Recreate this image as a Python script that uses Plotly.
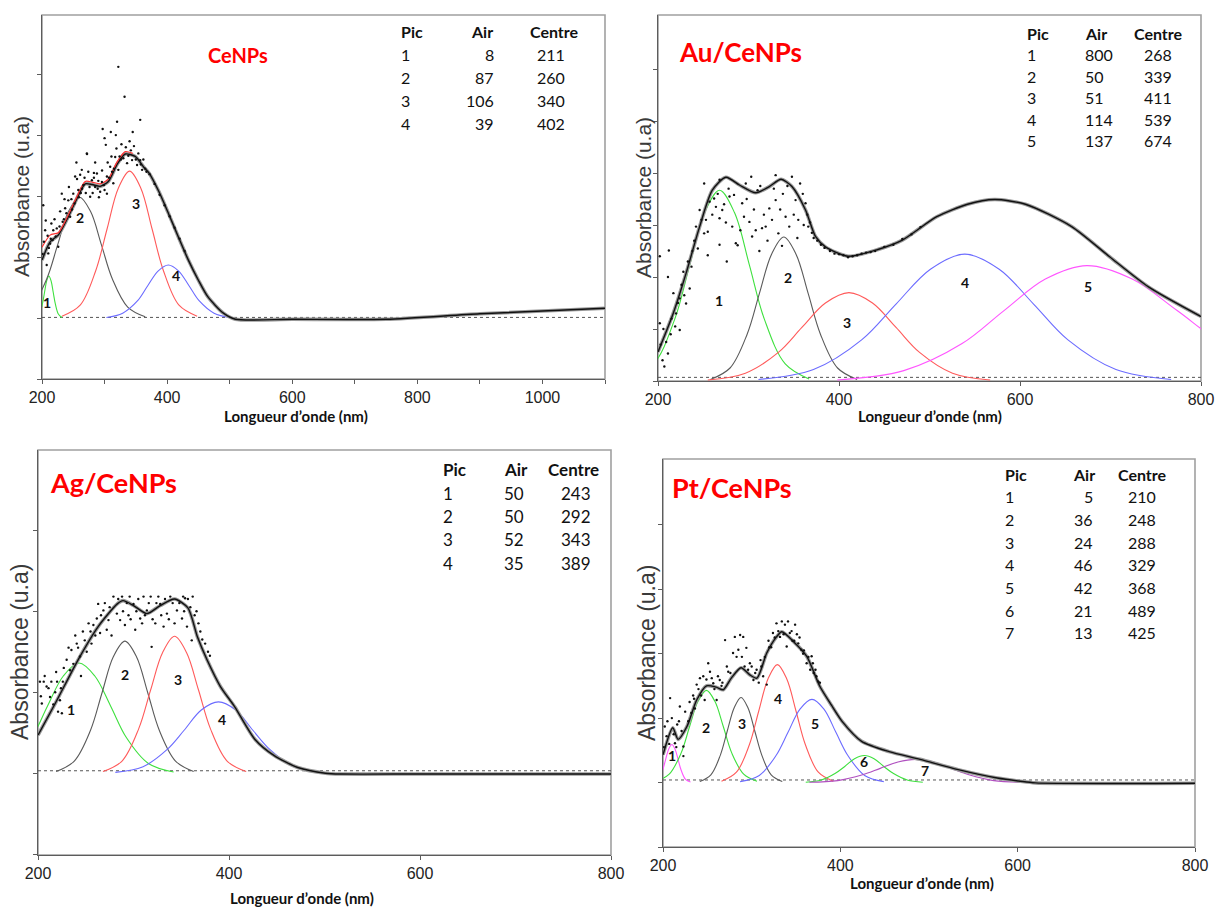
import plotly.graph_objects as go

W, H = 1215, 907

# ======================= DATA =======================
# ---------- CeNPs ----------
CE_PIC = ["1", "2", "3", "4"]
CE_AIR = ["8", "87", "106", "39"]
CE_CENTRE = ["211", "260", "340", "402"]
CE_PEAKS_X = [
    [190, 195.6, 200.5, 204, 207.5, 211, 214.5, 218, 221.5, 226.4, 232],
    [155, 183, 207.5, 225, 242.5, 260, 277.5, 295, 312.5, 337, 365],
    [232, 261, 286, 304, 322, 340, 358, 376, 394, 419, 448],
    [303, 329, 352.5, 369, 385.5, 402, 418.5, 435, 451.5, 475, 501],
]
CE_PEAKS_Y = [
    [0.008, 0.061, 0.224, 0.419, 0.609, 0.69, 0.609, 0.419, 0.224, 0.061, 0.008],
    [0.02, 0.18, 0.64, 1.20, 1.75, 1.98, 1.75, 1.20, 0.64, 0.18, 0.02],
    [0.03, 0.21, 0.78, 1.46, 2.13, 2.41, 2.13, 1.46, 0.78, 0.21, 0.03],
    [0.01, 0.08, 0.28, 0.53, 0.77, 0.87, 0.77, 0.53, 0.28, 0.08, 0.01],
]
CE_ENV_X = [200, 213, 226, 240, 253, 269, 280, 293, 306, 320, 333, 349, 363, 371, 387,
            402, 418, 434, 450, 465, 490, 509, 600, 750, 900, 1100]
CE_ENV_Y = [0.95, 1.25, 1.36, 1.62, 1.90, 2.20, 2.19, 2.16, 2.24, 2.52, 2.69, 2.65, 2.47, 2.38, 2.07,
            1.72, 1.33, 0.95, 0.62, 0.35, 0.08, -0.02, -0.02, -0.02, 0.07, 0.16]
CE_FIT_X = [200, 213, 226, 240, 253, 269, 280, 293, 306, 320, 333, 345]
CE_FIT_Y = [1.16, 1.36, 1.40, 1.65, 1.93, 2.24, 2.23, 2.20, 2.28, 2.56, 2.73, 2.70]
CE_DOTS = [(202, 1.85), (205, 1.44), (210, 1.06), (207.5, 0.87), (213, 1.22), (218, 1.44), (223.6, 1.47),
           (226, 1.17), (231.6, 2.04), (237, 1.80), (242, 1.93), (245, 1.66), (250, 2.04), (253, 2.32),
           (258, 2.10), (263.6, 2.43), (266, 2.18), (271.7, 2.70), (277, 1.99), (279.7, 2.26), (285, 2.15),
           (287.8, 2.37), (293, 2.07), (295.8, 2.23), (303.8, 2.32), (303.8, 2.04), (309, 2.48), (314, 2.21),
           (317, 2.64), (322, 2.43), (336, 2.54), (344, 2.59), (352, 2.51), (357, 2.59), (360, 2.43),
           (322, 4.12), (332, 3.63), (297, 3.10), (320, 3.22), (357, 3.25), (302, 2.84), (272, 2.69),
           (318, 3.00), (365, 2.45), (372, 2.36), (380, 2.20), (388, 2.02), (396, 1.85), (404, 1.67),
           (412, 1.48), (420, 1.30), (428, 1.10), (214, 1.30), (228, 1.50), (248, 1.78), (262, 2.05),
           (283, 2.30), (300, 2.10), (312, 2.40), (326, 2.60), (340, 2.90), (235, 1.62), (290, 2.25),
           (201, 1.05), (203, 1.25), (206, 1.60), (209, 1.35), (211, 1.15), (215, 1.55), (217, 1.28),
           (220, 1.62), (222, 1.34), (229, 1.75), (233, 1.58), (236, 1.95), (239, 1.72), (243, 2.15),
           (247, 1.95), (252, 1.88), (256, 2.28), (259, 1.98), (261, 2.35), (264, 2.12), (268, 2.30),
           (270, 2.05), (274, 2.40), (276, 2.15), (281, 2.05), (283, 2.38), (289, 2.12), (291, 1.98),
           (296, 2.42), (299, 2.18), (305, 2.55), (307, 2.30), (311, 2.65), (315, 2.45), (319, 2.78),
           (324, 2.65), (327, 2.85), (330, 2.62), (334, 2.80), (338, 2.66), (342, 2.75), (347, 2.82),
           (350, 2.60), (354, 2.70), (358, 2.52), (362, 2.60), (367, 2.40), (300, 2.95), (310, 3.05),
           (285, 2.55), (255, 2.55), (345, 3.05)]

# ---------- Au/CeNPs ----------
AU_PIC = ["1", "2", "3", "4", "5"]
AU_AIR = ["800", "50", "51", "114", "137"]
AU_CENTRE = ["268", "339", "411", "539", "674"]
AU_PEAKS_X = [
    [169, 195.4, 218.5, 235, 251.5, 268, 284.5, 301, 317.5, 340.6, 367],
    [258, 279.6, 298.5, 312, 325.5, 339, 352.5, 366, 379.5, 398.4, 420],
    [255, 296.6, 333, 359, 385, 411, 437, 463, 489, 525.4, 567],
    [311, 371.8, 425, 463, 501, 539, 577, 615, 653, 706, 767],
    [398, 471.6, 536, 582, 628, 674, 724, 774, 824, 894, 974],
]
AU_PEAKS_Y = [
    [0.04, 0.33, 1.19, 2.23, 3.24, 3.67, 3.24, 2.23, 1.19, 0.33, 0.04],
    [0.03, 0.25, 0.90, 1.68, 2.44, 2.77, 2.44, 1.68, 0.90, 0.25, 0.03],
    [0.02, 0.15, 0.55, 1.03, 1.50, 1.70, 1.50, 1.03, 0.55, 0.15, 0.02],
    [0.03, 0.22, 0.79, 1.48, 2.15, 2.44, 2.15, 1.48, 0.79, 0.22, 0.03],
    [0.02, 0.20, 0.72, 1.35, 1.96, 2.22, 1.96, 1.35, 0.72, 0.20, 0.02],
]
AU_ENV_X = [200, 217, 231, 246, 260, 275, 290, 308, 323, 336, 348, 363, 374, 385, 410, 443,
            470, 508, 542, 572, 606, 657, 699, 742, 800]
AU_ENV_Y = [0.56, 1.31, 2.07, 2.97, 3.67, 3.92, 3.77, 3.62, 3.74, 3.88, 3.74, 3.29, 2.78, 2.58, 2.40, 2.53,
            2.71, 3.16, 3.40, 3.49, 3.40, 2.97, 2.39, 1.81, 1.24]
AU_DOTS = [(202, 2.40), (212, 2.51), (202, 1.11), (205, 0.40), (211, 2.00), (217, 1.69), (224, 1.59),
           (231, 1.49), (235, 1.78), (242, 2.97), (246, 3.29), (251, 2.84), (255, 2.87), (262, 3.51),
           (264, 3.35), (268, 3.13), (271, 3.29), (282, 2.97), (286, 2.65), (284, 3.58), (293, 3.42),
           (295, 3.16), (301, 3.06), (304, 2.78), (310, 3.67), (315, 2.94), (319, 2.97), (323, 3.32),
           (326, 3.10), (330, 3.48), (333, 2.84), (341, 3.16), (345, 2.97), (352, 3.48), (357, 3.80),
           (363, 3.42), (288, 2.61), (366, 2.97), (268, 3.87), (251, 3.80), (303, 3.93), (330, 3.96),
           (348, 3.93), (255, 2.42), (253, 3.10), (268, 2.62), (207, 0.28), (211, 0.53), (224, 0.98),
           (228, 2.10), (238, 2.50), (278, 3.70), (298, 3.50), (338, 3.60), (355, 3.10), (370, 2.85),
           (214, 0.90), (220, 1.30), (276, 2.30), (312, 2.50), (380, 2.62), (390, 2.50), (400, 2.44),
           (410, 2.38), (420, 2.42), (430, 2.47), (440, 2.50), (450, 2.58), (460, 2.62), (470, 2.73),
           (480, 2.82), (490, 2.96),
           (203, 0.70), (206, 1.00), (209, 0.75), (215, 1.20), (219, 1.05), (222, 1.50), (226, 1.85),
           (229, 1.65), (233, 2.30), (237, 2.20), (240, 2.70), (244, 2.55), (248, 3.10), (257, 3.45),
           (260, 3.20), (266, 3.60), (273, 3.40), (275, 3.05), (279, 3.55), (291, 2.90), (297, 3.80),
           (306, 3.30), (308, 2.90), (313, 3.75), (317, 3.20), (321, 2.70), (328, 3.70), (335, 3.30),
           (337, 2.60), (343, 3.75), (350, 3.20), (354, 2.75), (360, 3.60), (361, 3.00), (365, 3.20),
           (368, 3.05), (372, 2.75), (376, 2.70), (384, 2.56), (395, 2.45), (405, 2.42), (415, 2.40),
           (425, 2.45), (435, 2.48)]

# ---------- Ag/CeNPs ----------
AG_PIC = ["1", "2", "3", "4"]
AG_AIR = ["50", "50", "52", "35"]
AG_CENTRE = ["243", "292", "343", "389"]
AG_PEAKS_X = [
    [144, 170.4, 193.5, 210, 226.5, 243, 259.5, 276, 292.5, 315.6, 342],
    [219, 238, 255, 267, 279, 291, 303, 315, 327, 344, 363],
    [268, 288, 305.5, 318, 330.5, 343, 355.5, 368, 380.5, 398, 418],
    [281, 310, 335, 353, 371, 389, 407, 425, 443, 468, 497],
]
AG_PEAKS_Y = [
    [0.015, 0.12, 0.44, 0.83, 1.20, 1.36, 1.20, 0.83, 0.44, 0.12, 0.015],
    [0.02, 0.15, 0.53, 0.99, 1.44, 1.63, 1.44, 0.99, 0.53, 0.15, 0.02],
    [0.02, 0.15, 0.55, 1.03, 1.49, 1.69, 1.49, 1.03, 0.55, 0.15, 0.02],
    [0.01, 0.08, 0.29, 0.53, 0.78, 0.88, 0.78, 0.53, 0.29, 0.08, 0.01],
]
AG_ENV_X = [200, 218, 242, 263, 283, 289, 300, 314, 328, 343, 357, 367, 377, 391, 406, 427,
            447, 472, 501, 517, 600, 800]
AG_ENV_Y = [0.47, 0.86, 1.40, 1.81, 2.09, 2.13, 2.07, 1.97, 2.07, 2.15, 2.04, 1.68, 1.40, 1.07, 0.82, 0.42,
            0.22, 0.07, 0.0, -0.01, -0.01, -0.01]
AG_DOTS = [(202, 1.13), (209, 1.07), (204, 0.86), (212.6, 0.94), (218, 1.00), (223, 0.90), (221, 0.76),
           (225, 0.74), (230, 1.40), (233.6, 1.27), (235, 1.52), (240.6, 1.60), (244, 1.44), (249, 1.64),
           (251, 1.50), (258, 1.83), (261.6, 1.91), (265, 1.73), (263, 2.09), (268.5, 2.01), (272, 1.77),
           (273.8, 1.89), (279, 2.18), (282.6, 1.97), (286, 1.89), (291, 1.83), (294.8, 1.95), (300, 2.09),
           (301.8, 1.77), (307, 1.91), (310.5, 2.18), (314, 2.01), (319, 1.56), (322.8, 1.85), (328, 2.09),
           (331.5, 1.81), (335, 1.97), (338.5, 2.18), (345.5, 2.01), (350.8, 1.91), (354, 2.16),
           (356, 1.81), (359.5, 2.05), (361, 1.64), (206, 1.13), (214, 1.13), (220, 1.13), (226, 1.13),
           (245, 1.20), (255, 1.75), (288, 2.18), (296, 2.18), (318, 2.18), (326, 2.18), (352, 2.18),
           (362, 2.18), (366, 2.00), (370, 1.75), (375, 1.60), (380, 1.45),
           (203, 0.95), (207, 1.20), (211, 1.05), (216, 0.85), (219, 1.25), (224, 1.05), (227, 1.30),
           (232, 1.55), (237, 1.35), (239, 1.70), (242, 1.55), (247, 1.75), (253, 1.85), (256, 1.60),
           (260, 1.70), (266, 1.95), (270, 2.10), (275, 2.05), (277, 1.70), (284, 2.15), (289, 2.00),
           (293, 2.10), (297, 1.90), (303, 2.00), (305, 2.15), (309, 1.85), (312, 1.95), (316, 2.10),
           (320, 1.90), (324, 2.10), (329, 1.95), (333, 2.15), (337, 1.90), (341, 2.10), (343, 1.85),
           (348, 2.10), (353, 2.00), (357, 2.15), (364, 1.95), (368, 1.85), (372, 1.65), (378, 1.50)]

# ---------- Pt/CeNPs ----------
PT_PIC = ["1", "2", "3", "4", "5", "6", "7"]
PT_AIR = ["5", "36", "24", "46", "42", "21", "13"]
PT_CENTRE = ["210", "248", "288", "329", "368", "489", "425"]
PT_PEAKS_X = [
    [189, 194.6, 199.5, 203, 206.5, 210, 213.5, 217, 220.5, 225.4, 231],
    [192, 207, 220.5, 230, 239.5, 249, 258.5, 268, 277.5, 291, 306],
    [241.5, 254, 264.8, 272.5, 280.3, 288, 295.8, 303.5, 311.3, 322, 334.5],
    [266, 282.8, 297.5, 308, 318.5, 329, 339.5, 350, 360.5, 375.2, 392],
    [287, 308.6, 327.5, 341, 354.5, 368, 381.5, 395, 408.5, 427.4, 449],
    [361, 378.6, 394, 405, 416, 427, 438, 449, 460, 475.4, 493],
    [365, 397, 425, 445, 465, 485, 505, 525, 545, 573, 605],
]
PT_PEAKS_Y = [
    [0.01, 0.05, 0.19, 0.36, 0.52, 0.59, 0.52, 0.36, 0.19, 0.05, 0.01],
    [0.02, 0.13, 0.46, 0.87, 1.26, 1.43, 1.26, 0.87, 0.46, 0.13, 0.02],
    [0.015, 0.12, 0.43, 0.80, 1.16, 1.32, 1.16, 0.80, 0.43, 0.12, 0.015],
    [0.02, 0.16, 0.59, 1.11, 1.61, 1.83, 1.61, 1.11, 0.59, 0.16, 0.02],
    [0.014, 0.11, 0.42, 0.78, 1.14, 1.29, 1.14, 0.78, 0.42, 0.11, 0.014],
    [0.005, 0.04, 0.14, 0.25, 0.37, 0.42, 0.37, 0.25, 0.14, 0.04, 0.005],
    [0.004, 0.03, 0.12, 0.22, 0.32, 0.36, 0.32, 0.22, 0.12, 0.03, 0.004],
]
PT_ENV_X = [200, 211, 217, 227, 238, 249, 260, 268, 277, 288, 298, 306, 317, 328, 334, 347, 362,
            377, 390, 402, 424, 455, 490, 533, 577, 603, 620, 800]
PT_ENV_Y = [0.43, 0.85, 0.67, 0.87, 1.28, 1.50, 1.48, 1.44, 1.62, 1.78, 1.67, 1.62, 2.01, 2.26, 2.34, 2.19,
            1.96, 1.49, 1.20, 0.95, 0.64, 0.48, 0.36, 0.20, 0.07, 0.02, -0.005, -0.01]
PT_DOTS = [(202, 0.87), (204, 0.72), (208, 1.31), (213.5, 0.61), (219, 1.18), (223, 0.56), (223, 0.41),
           (228.5, 0.95), (232, 1.08), (238, 1.52), (241.7, 1.62), (245.4, 1.65), (247, 1.28), (251, 1.85),
           (253, 1.72), (256.7, 1.54), (260.5, 1.28), (264, 1.59), (270, 2.21), (273.6, 1.72), (279, 2.01),
           (281, 2.26), (285, 2.06), (287, 2.29), (290.5, 2.26), (294, 2.09), (298, 1.85), (302, 1.59),
           (305.6, 1.75), (313, 1.65), (317, 1.52), (324, 2.32), (328, 2.47), (332, 2.26), (337.5, 2.45),
           (339.5, 2.11), (343, 2.32), (349, 2.45), (352.5, 2.16), (356, 2.06), (362, 1.85), (366, 1.75),
           (367.6, 1.96), (373, 1.65), (375, 1.57), (341, 2.50), (216, 0.90), (235, 1.30), (266, 1.50),
           (310, 1.90), (320, 2.10), (346, 2.20), (358, 2.00), (370, 1.70),
           (201, 0.55), (205, 0.95), (207, 0.60), (210, 1.00), (212, 0.75), (215, 0.55), (218, 0.95),
           (221, 0.80), (225, 1.10), (230, 1.25), (234, 1.35), (236, 1.15), (240, 1.45), (243, 1.35),
           (249, 1.60), (255, 1.62), (258, 1.45), (262, 1.65), (267, 1.55), (272, 1.80), (276, 1.70),
           (283, 1.95), (289, 1.95), (292, 1.80), (296, 1.75), (300, 1.80), (304, 1.70), (308, 1.55),
           (311, 1.80), (315, 1.95), (319, 2.20), (322, 2.10), (326, 2.25), (330, 2.35), (334, 2.50),
           (336, 2.30), (345, 2.35), (348, 2.20), (351, 2.30), (354, 2.25), (359, 2.05), (364, 1.95),
           (369, 1.85), (372, 1.75), (377, 1.55)]

BASELINES = {"ce": 0.01, "au": 0.07, "ag": 0.03, "pt": 0.04}

# ======================= STYLE / LAYOUT =======================
GREEN, GRAY, RED, BLUE, MAG, PURP = "#3ee03e", "#5a5a5a", "#ff5a5a", "#6b6bff", "#ff55ff", "#b050c0"

PANELS = [
    dict(key="ce", title="CeNPs", title_px=(238, 55), title_size=20,
         box=(42, 15, 605, 379), xr=[200, 1100], yr=[-1.0, 4.97], yticks=[-1, 0, 1, 2, 3, 4],
         px=CE_PEAKS_X, py=CE_PEAKS_Y, colors=[GREEN, GRAY, RED, BLUE],
         ex=CE_ENV_X, ey=CE_ENV_Y, dots=CE_DOTS,
         labels=[(208, 0.25), (261, 1.65), (351, 1.88), (415, 0.69)],
         pic=CE_PIC, air=CE_AIR, cen=CE_CENTRE,
         tab=dict(pic=(399, "left"), airh=(495, "right"), air=(496, "right"),
                  cenh=(554, "center"), cen=(551, "center"), y0=31, dy=23.2, fs=16),
         ytitle=(22, 197, 21), xtitle=(296, 416), ticky=True),
    dict(key="au", title="Au/CeNPs", title_px=(740, 52), title_size=26,
         box=(658, 15, 1201, 381), xr=[200, 800], yr=[0.0, 7.04], yticks=[0, 1, 2, 3, 4, 5, 6],
         px=AU_PEAKS_X, py=AU_PEAKS_Y, colors=[GREEN, GRAY, RED, BLUE, MAG],
         ex=AU_ENV_X, ey=AU_ENV_Y, dots=AU_DOTS,
         labels=[(267.6, 1.54), (343.5, 2.0), (408.5, 1.12), (539, 1.90), (675, 1.81)],
         pic=AU_PIC, air=AU_AIR, cen=AU_CENTRE,
         tab=dict(pic=(1025, "left"), airh=(1083, "left"), air=(1083, "left"),
                  cenh=(1132, "left"), cen=(1142, "left"), y0=33, dy=21.6, fs=16),
         ytitle=(643, 198, 21), xtitle=(930, 416), ticky=False),
    dict(key="ag", title="Ag/CeNPs", title_px=(113, 483), title_size=27,
         box=(38, 450, 611, 855), xr=[200, 800], yr=[-1.01, 3.99], yticks=[-1, 0, 1, 2, 3],
         px=AG_PEAKS_X, py=AG_PEAKS_Y, colors=[GREEN, GRAY, RED, BLUE],
         ex=AG_ENV_X, ey=AG_ENV_Y, dots=AG_DOTS,
         labels=[(235, 0.79), (291, 1.22), (347, 1.16), (393, 0.66)],
         pic=AG_PIC, air=AG_AIR, cen=AG_CENTRE,
         tab=dict(pic=(441, "left"), airh=(502, "left"), air=(502, "left"),
                  cenh=(546, "left"), cen=(593, "right"), y0=470, dy=23.3, fs=17),
         ytitle=(20, 652, 23), xtitle=(302, 898), ticky=False),
    dict(key="pt", title="Pt/CeNPs", title_px=(732, 488), title_size=27,
         box=(663, 459, 1195, 847), xr=[200, 800], yr=[-1.0, 5.02], yticks=[-1, 0, 1, 2, 3, 4],
         px=PT_PEAKS_X, py=PT_PEAKS_Y, colors=[MAG, GREEN, GRAY, RED, BLUE, GREEN, PURP],
         ex=PT_ENV_X, ey=PT_ENV_Y, dots=PT_DOTS,
         labels=[(210, 0.42), (248, 0.86), (289, 0.92), (330, 1.31), (371, 0.92), (426.5, 0.33), (495, 0.19)],
         pic=PT_PIC, air=PT_AIR, cen=PT_CENTRE,
         tab=dict(pic=(1003, "left"), airh=(1071, "left"), air=(1095, "right"),
                  cenh=(1116, "left"), cen=(1126, "left"), y0=474, dy=22.7, fs=16),
         ytitle=(647, 653, 23), xtitle=(922, 883), ticky=False),
]

TXT_FONT = "Lato, 'Open Sans', sans-serif"
TICK_FONT = "'Liberation Sans Narrow', 'Arial Narrow', 'Liberation Sans', Arial, sans-serif"
AXIS_COL = "#5c5c5c"

fig = go.Figure()
layout = dict(width=W, height=H, margin=dict(l=0, r=0, t=0, b=0, pad=0), autosize=False,
              paper_bgcolor="white", plot_bgcolor="white", showlegend=False)
annotations, shapes = [], []


def pxx(x):
    return x / W


def pxy(y):
    return 1 - y / H


for i, p in enumerate(PANELS, start=1):
    sfx = "" if i == 1 else str(i)
    xa, ya = "x" + sfx, "y" + sfx
    l, t, r, b = p["box"]
    xaxis = dict(domain=[l / W, r / W], anchor=ya, range=p["xr"], showgrid=False, zeroline=False,
                 automargin=False, ticklabeloverflow="allow", showline=True, linecolor=AXIS_COL,
                 linewidth=1.3, ticks="outside", ticklen=4, tickcolor=AXIS_COL,
                 tickfont=dict(family=TICK_FONT, size=16, color="#222"))
    if p["ticky"]:
        xaxis.update(tickmode="linear", tick0=200, dtick=200,
                     minor=dict(ticks="outside", ticklen=4, tickcolor=AXIS_COL, dtick=100, tick0=200,
                                showgrid=False))
    else:
        xaxis.update(tickmode="array", tickvals=[200, 400, 600, 800], ticktext=["200", "400", "600", "800"])
    yaxis = dict(domain=[1 - b / H, 1 - t / H], anchor=xa, range=p["yr"], showgrid=False, zeroline=False,
                 automargin=False, showline=True, linecolor=AXIS_COL, linewidth=1.3, ticks="outside",
                 ticklen=4, tickcolor=AXIS_COL, tickmode="array", tickvals=p["yticks"],
                 showticklabels=False)
    layout["xaxis" + sfx] = xaxis
    layout["yaxis" + sfx] = yaxis

    # light frame
    shapes.append(dict(type="rect", xref=xa + " domain", yref=ya + " domain", x0=0, x1=1, y0=0, y1=1,
                       line=dict(color="#a0a0a0", width=1.6), layer="below"))

    # dotted baseline
    fig.add_trace(go.Scatter(x=p["xr"], y=[BASELINES[p["key"]]] * 2, xaxis=xa, yaxis=ya, mode="lines",
                             line=dict(color="#555", width=1, dash="dot"), hoverinfo="skip"))
    # component peaks
    for xs, ys, col in zip(p["px"], p["py"], p["colors"]):
        fig.add_trace(go.Scatter(x=xs, y=ys, xaxis=xa, yaxis=ya, mode="lines",
                                 line=dict(color=col, width=1.1, shape="spline", smoothing=1.0),
                                 hoverinfo="skip"))
    # envelope (data + fit)
    fig.add_trace(go.Scatter(x=p["ex"], y=p["ey"], xaxis=xa, yaxis=ya, mode="lines",
                             line=dict(color="#9a9a9a", width=3.6, shape="spline", smoothing=0.7),
                             hoverinfo="skip"))
    fig.add_trace(go.Scatter(x=p["ex"], y=p["ey"], xaxis=xa, yaxis=ya, mode="lines",
                             line=dict(color="#111", width=1.4, shape="spline", smoothing=0.7),
                             hoverinfo="skip"))
    if p["key"] == "ce":
        fig.add_trace(go.Scatter(x=CE_FIT_X, y=CE_FIT_Y, xaxis=xa, yaxis=ya, mode="lines",
                                 line=dict(color="#ff3030", width=1.2, shape="spline", smoothing=0.7),
                                 hoverinfo="skip"))
    # noisy data points
    fig.add_trace(go.Scatter(x=[d[0] for d in p["dots"]], y=[d[1] for d in p["dots"]], xaxis=xa, yaxis=ya,
                             mode="markers", marker=dict(color="#111", size=2.4), hoverinfo="skip"))

    # peak numbers
    for n, (lx, ly) in enumerate(p["labels"], start=1):
        annotations.append(dict(x=lx, y=ly, xref=xa, yref=ya, text=f"<b>{n}</b>", showarrow=False,
                                font=dict(family=TXT_FONT, size=14, color="#111")))
    # sample title
    tx, ty = p["title_px"]
    annotations.append(dict(x=pxx(tx), y=pxy(ty), xref="paper", yref="paper", text=f"<b>{p['title']}</b>",
                            showarrow=False, xanchor="center", yanchor="middle",
                            font=dict(family=TXT_FONT, size=p["title_size"], color="#ff0000")))
    # table
    tb = p["tab"]
    hdr = [("Pic", tb["pic"]), ("Air", tb["airh"]), ("Centre", tb["cenh"])]
    for txt, (cx, anc) in hdr:
        annotations.append(dict(x=pxx(cx), y=pxy(tb["y0"]), xref="paper", yref="paper", text=f"<b>{txt}</b>",
                                showarrow=False, xanchor=anc, yanchor="middle",
                                font=dict(family=TXT_FONT, size=tb["fs"], color="#111")))
    for k, (pc, ar, ce) in enumerate(zip(p["pic"], p["air"], p["cen"]), start=1):
        yy = pxy(tb["y0"] + k * tb["dy"])
        for txt, (cx, anc) in [(pc, tb["pic"]), (ar, tb["air"]), (ce, tb["cen"])]:
            annotations.append(dict(x=pxx(cx), y=yy, xref="paper", yref="paper", text=txt,
                                    showarrow=False, xanchor=anc, yanchor="middle",
                                    font=dict(family=TXT_FONT, size=tb["fs"], color="#111")))
    # axis titles
    yx, yy, ys = p["ytitle"]
    annotations.append(dict(x=pxx(yx), y=pxy(yy), xref="paper", yref="paper", text="Absorbance (u.a)",
                            textangle=-90, showarrow=False, xanchor="center", yanchor="middle",
                            font=dict(family="'Liberation Sans', Arial, sans-serif", size=ys, color="#3a3a3a")))
    xx, xy = p["xtitle"]
    annotations.append(dict(x=pxx(xx), y=pxy(xy), xref="paper", yref="paper",
                            text="<b>Longueur d\u2019onde (nm)</b>", showarrow=False,
                            xanchor="center", yanchor="middle",
                            font=dict(family=TXT_FONT, size=15, color="#111")))

layout["annotations"] = annotations
layout["shapes"] = shapes
fig.update_layout(**layout)
fig.write_html("out.html")
